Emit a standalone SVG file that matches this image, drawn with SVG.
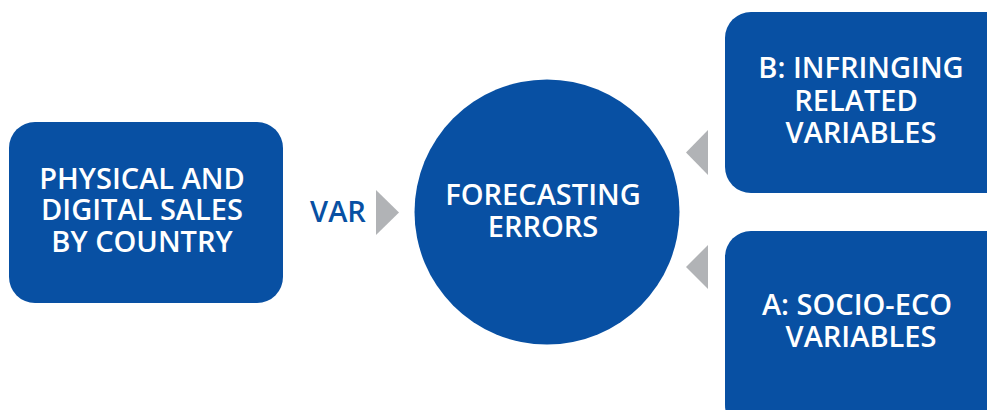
<svg xmlns="http://www.w3.org/2000/svg" width="987" height="410" viewBox="0 0 987 410">
<style>
.node{fill:#0850a3}
.t{font-family:"Open Sans","Liberation Sans",sans-serif;font-weight:600;font-size:29px;fill:#ffffff;text-anchor:middle}
.lbl{font-family:"Open Sans","Liberation Sans",sans-serif;font-weight:600;font-size:29px;fill:#0850a3;text-anchor:middle}
.arr{fill:#b1b3b6}
</style>
<rect width="987" height="410" fill="#ffffff"/>
<g id="sales">
<rect class="node" x="9" y="122" width="274" height="181" rx="26"/>
<text class="t" x="142" y="189">PHYSICAL AND</text>
<text class="t" x="142" y="220">DIGITAL SALES</text>
<text class="t" x="142" y="252">BY COUNTRY</text>
</g>
<g id="errors">
<circle class="node" cx="547" cy="212" r="132.5"/>
<text class="t" x="543" y="205">FORECASTING</text>
<text class="t" x="543" y="237">ERRORS</text>
</g>
<g id="infringing">
<rect class="node" x="725" y="12" width="290" height="181" rx="26"/>
<text class="t" x="861" y="78">B: INFRINGING</text>
<text class="t" x="856" y="111">RELATED</text>
<text class="t" x="861" y="143">VARIABLES</text>
</g>
<g id="socioeco">
<rect class="node" x="725" y="231" width="290" height="200" rx="26"/>
<text class="t" x="857" y="315">A: SOCIO-ECO</text>
<text class="t" x="861" y="347">VARIABLES</text>
</g>
<g id="connectors">
<text class="lbl" x="338" y="222">VAR</text>
<polygon class="arr" points="376,190 399,212.5 376,235"/>
<polygon class="arr" points="708,130 686,152.5 708,175"/>
<polygon class="arr" points="708,245 686,267 708,289"/>
</g>
</svg>
